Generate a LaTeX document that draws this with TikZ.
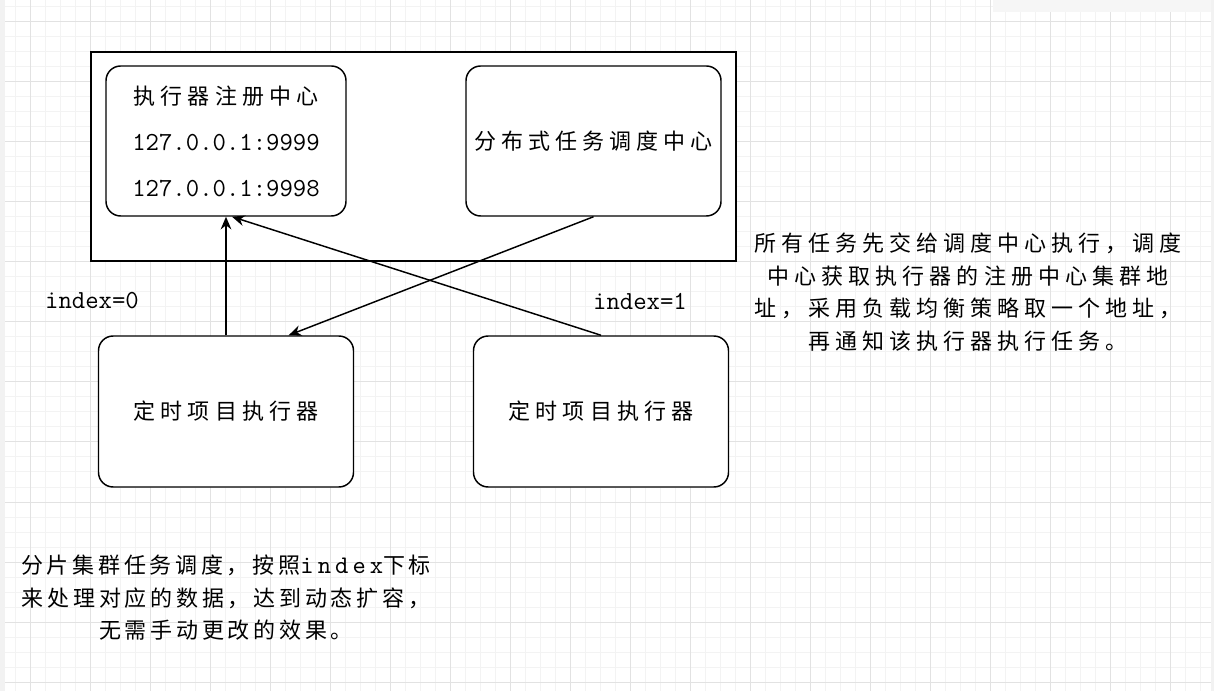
\documentclass[tikz,border=0pt]{standalone}
\usepackage{fontspec}
\usetikzlibrary{arrows.meta, positioning}
\newfontfamily\cjk[LetterSpace=23]{Noto Sans CJK SC}
\newfontfamily\cjknarrow[LetterSpace=17]{Noto Sans CJK SC}
\newfontfamily\ttls[LetterSpace=16]{lmmono10-regular.otf}
\newcommand\zh[1]{{\cjk\fontsize{16.5}{20}\selectfont #1}}
\newcommand\zhn[1]{{\cjknarrow\fontsize{16.5}{20}\selectfont #1}}
\definecolor{gridlo}{HTML}{F3F3F3}
\definecolor{gridhi}{HTML}{E2E2E2}

\begin{document}
\begin{tikzpicture}[x=0.75pt, y=-0.75pt,
  box/.style={rectangle, rounded corners=11pt, draw, line width=1.1pt, fill=white, align=center},
  arr/.style={-{Stealth[length=9.5pt, width=8pt]}, line width=1.1pt},
  latin/.style={font=\ttfamily\fontsize{19.5}{34.5}\selectfont},
  note/.style={align=center, inner sep=0pt, font=\ttfamily\fontsize{19}{24.4}\selectfont},
  gridminor/.style={draw=gridlo, line width=0.75pt},
  gridmajor/.style={draw=gridhi, line width=0.75pt}
]
\useasboundingbox (0,0) rectangle (1214,691);
\fill[white] (0,0) rectangle (1214,691);
\foreach \gx in {0,15,...,1214} \draw[gridminor] (\gx,0) -- (\gx,691);
\foreach \gy in {7,22,...,691} \draw[gridminor] (0,\gy) -- (1214,\gy);
\foreach \gx in {30,90,...,1214} \draw[gridmajor] (\gx,0) -- (\gx,691);
\foreach \gy in {22,82,...,691} \draw[gridmajor] (0,\gy) -- (1214,\gy);
\fill[gray!10] (0,0) rectangle (5,691);
\fill[gray!10] (1211,0) rectangle (1214,691);
\fill[gray!7] (993,0) rectangle (1211,12);

\node[draw, line width=1.1pt, fill=white, minimum width=483.75pt, minimum height=156.75pt, inner sep=0pt] (cluster) at (413.5,156.5) {};
\node[box, latin, minimum width=180pt, minimum height=112.5pt] (reg) at (226,141) {\zh{执行器注册中心}\\127.0.0.1:9999\\127.0.0.1:9998};
\node[box, minimum width=191.25pt, minimum height=112.5pt] (sched) at (593.5,141) {\zh{分布式任务调度中心}};
\node[box, minimum width=191.25pt, minimum height=113.25pt] (exec0) at (226,411.5) {\zh{定时项目执行器}};
\node[box, minimum width=191.25pt, minimum height=113.25pt] (exec1) at (601,411.5) {\zh{定时项目执行器}};

\node[latin] (idx0) at (92,301) {index=0};
\node[latin] (idx1) at (640,301) {index=1};

\draw[arr] (exec0) -- (reg);
\draw[arr] (exec1.north) -- ([xshift=4.5pt]reg.south);
\draw[arr] (sched.south) -- ([xshift=47pt]exec0.north);

\node[note] (tip1) at (968,292) {\zh{所有任务先交给调度中心执行，调度}\\\zh{中心获取执行器的注册中心集群地}\\\zh{址，采用负载均衡策略取一个地址，}\\\zh{再通知该执行器执行任务。}};
\node[note] (tip2) at (226,598) {\zhn{分片集群任务调度，按照}{\ttls index}\zhn{下标}\\\zhn{来处理对应的数据，达到动态扩容，}\\\zhn{无需手动更改的效果。}};
\end{tikzpicture}
\end{document}
